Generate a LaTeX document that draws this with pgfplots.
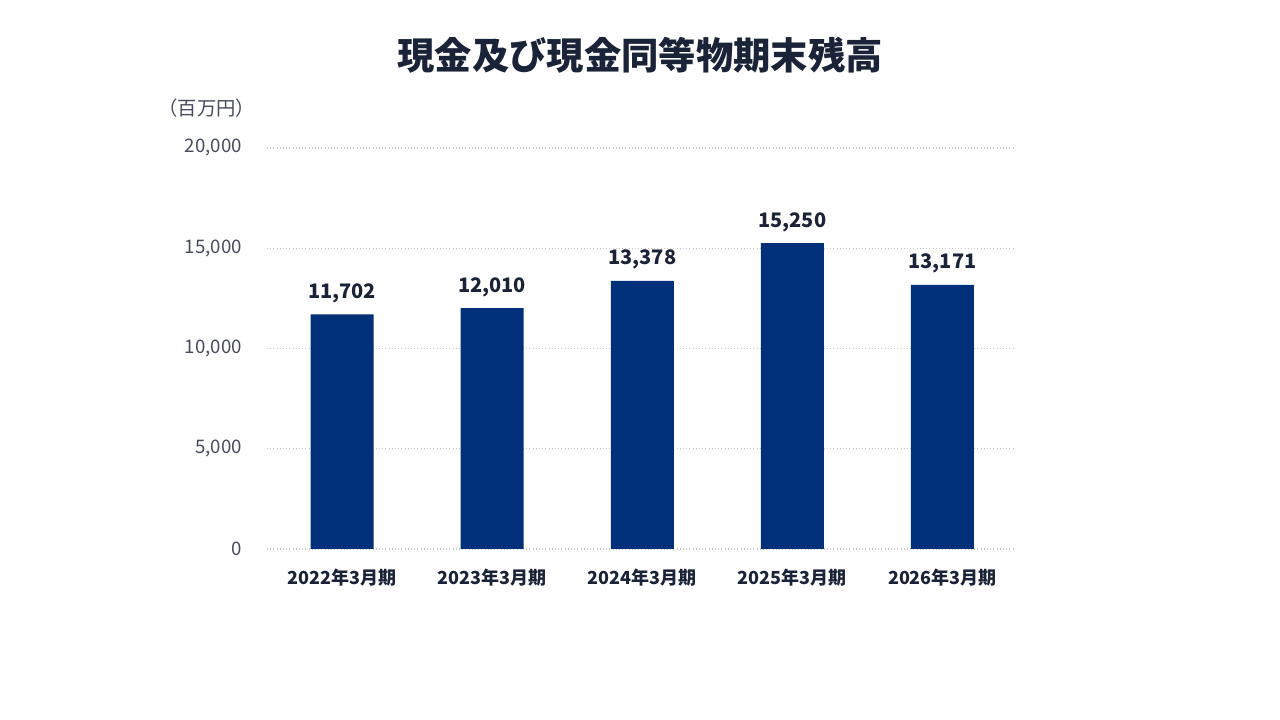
\documentclass[border=0pt]{standalone}
\usepackage{pgfplots}
\pgfplotsset{compat=1.18}
\usepackage{fontspec}
\setmainfont{Noto Sans CJK JP}
\definecolor{barblue}{RGB}{0,48,122}
\definecolor{txtdark}{RGB}{27,35,56}
\definecolor{txtgray}{RGB}{70,76,92}
\definecolor{gridgray}{RGB}{200,200,200}
\begin{document}
\begin{tikzpicture}
\path (0,0) rectangle (960pt,540pt);
\node[text=txtdark,font=\fontsize{28pt}{30pt}\selectfont\bfseries] at (480pt,498.75pt) {現金及び現金同等物期末残高};
\node[text=txtgray,font=\fontsize{14.5pt}{16pt}\selectfont,anchor=center] at (155pt,459pt) {（百万円）};
\begin{axis}[
  at={(200.25pt,128.25pt)}, anchor=south west,
  scale only axis, width=559.5pt, height=300.75pt,
  xmin=-0.5, xmax=4.47, ymin=0, ymax=20000,
  axis line style={draw=none},
  ymajorgrids, grid style={gridgray, dotted, line width=1pt},
  ytick={0,5000,10000,15000,20000},
  xtick={0,1,2,3,4},
  xticklabels={2022年3月期,2023年3月期,2024年3月期,2025年3月期,2026年3月期},
  scaled y ticks=false,
  /pgf/number format/assume math mode=true,
  /pgf/number format/1000 sep={,},
  yticklabel style={font=\fontsize{14pt}{16pt}\selectfont, text=txtgray, anchor=east, inner sep=0pt, xshift=-18.75pt},
  xticklabel style={font=\fontsize{13.5pt}{16pt}\selectfont\bfseries, text=txtdark, anchor=center, inner sep=0pt, yshift=-21.75pt},
  major tick length=0pt,
  clip=false,
  ybar, bar width=47.25pt, bar shift=0pt,
  nodes near coords,
  nodes near coords style={font=\fontsize{15pt}{18pt}\selectfont\bfseries, text=txtdark, anchor=south, inner sep=0pt, yshift=8.5pt, /pgf/number format/assume math mode=true, /pgf/number format/1000 sep={,}},
]
\addplot[fill=barblue, draw=none] coordinates {(0,11702) (1,12010) (2,13378) (3,15250) (4,13171)};
\end{axis}
\end{tikzpicture}
\end{document}
